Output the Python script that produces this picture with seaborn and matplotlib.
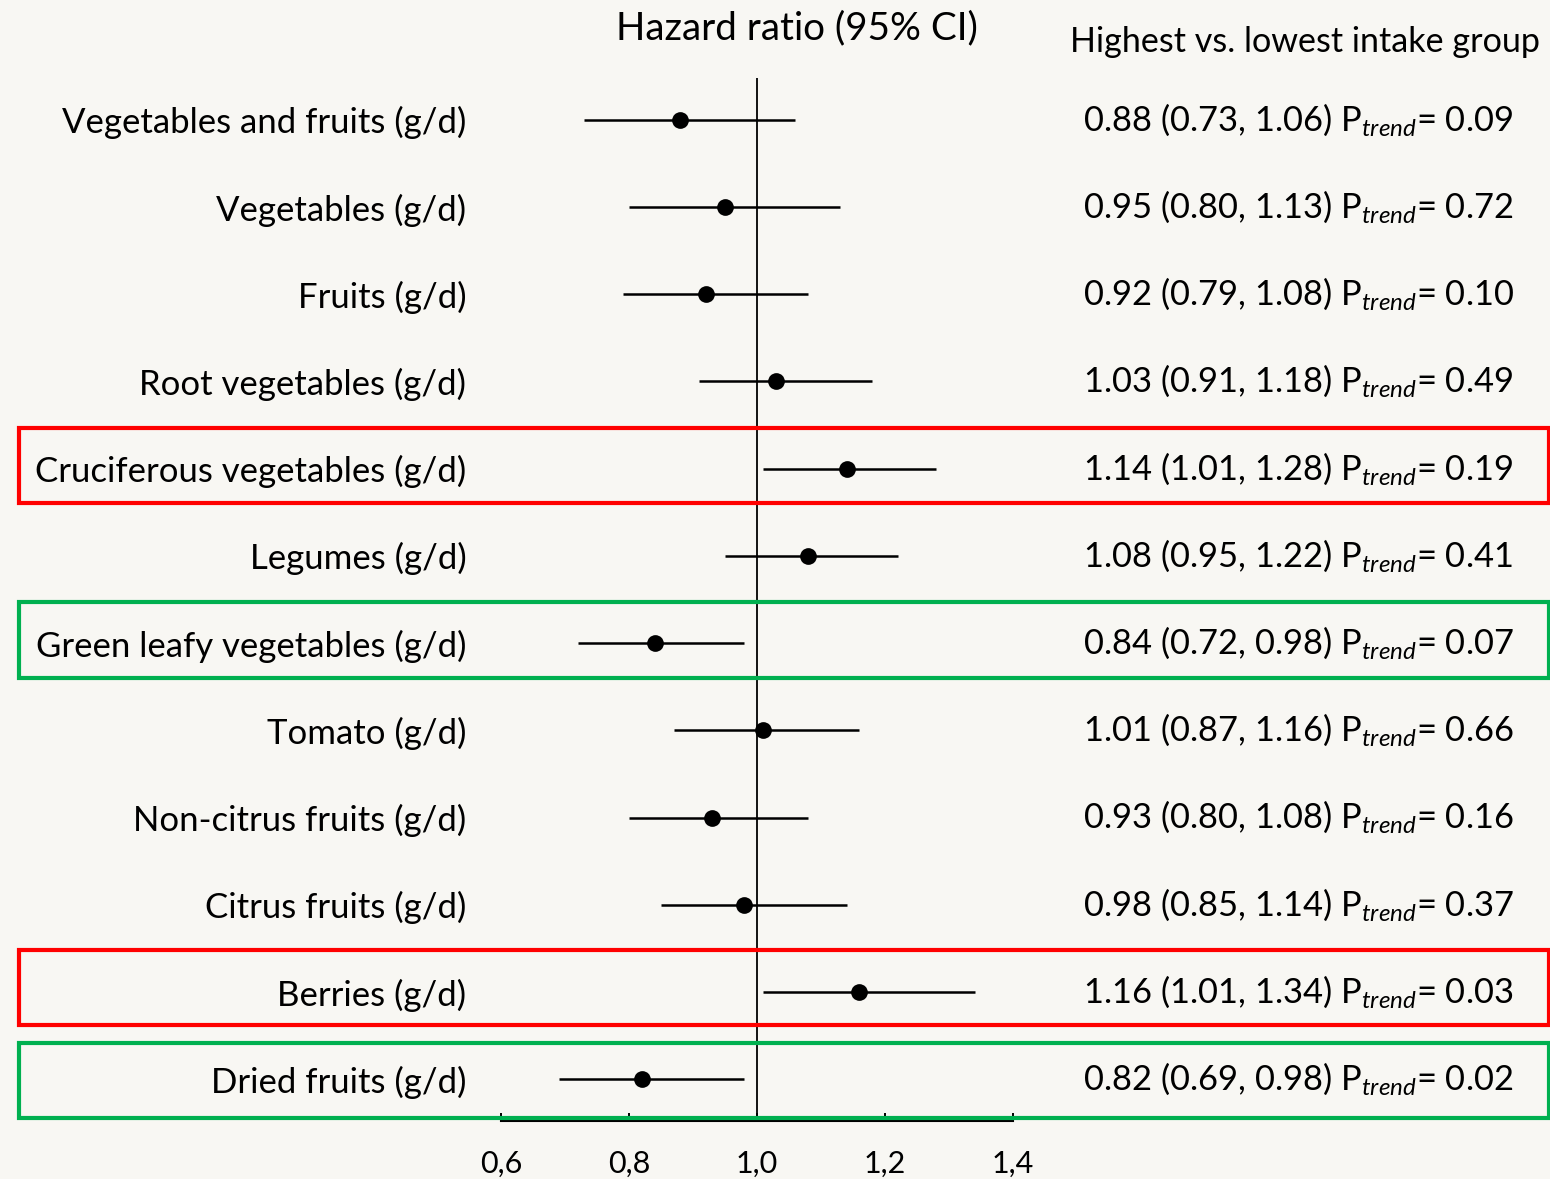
import matplotlib
matplotlib.use("Agg")
import matplotlib.pyplot as plt
import matplotlib.transforms as mtransforms
from matplotlib.patches import Rectangle
import pandas as pd
import seaborn as sns

# data
foods = [
    "Vegetables and fruits (g/d)",
    "Vegetables (g/d)",
    "Fruits (g/d)",
    "Root vegetables (g/d)",
    "Cruciferous vegetables (g/d)",
    "Legumes (g/d)",
    "Green leafy vegetables (g/d)",
    "Tomato (g/d)",
    "Non-citrus fruits (g/d)",
    "Citrus fruits (g/d)",
    "Berries (g/d)",
    "Dried fruits (g/d)",
]
hr = [0.88, 0.95, 0.92, 1.03, 1.14, 1.08, 0.84, 1.01, 0.93, 0.98, 1.16, 0.82]
ci_low = [0.73, 0.80, 0.79, 0.91, 1.01, 0.95, 0.72, 0.87, 0.80, 0.85, 1.01, 0.69]
ci_high = [1.06, 1.13, 1.08, 1.18, 1.28, 1.22, 0.98, 1.16, 1.08, 1.14, 1.34, 0.98]
p_trend = ["0.09", "0.72", "0.10", "0.49", "0.19", "0.41", "0.07", "0.66", "0.16", "0.37", "0.03", "0.02"]
x_ticks = [0.6, 0.8, 1.0, 1.2, 1.4]
x_ticklabels = ["0,6", "0,8", "1,0", "1,2", "1,4"]

# rows that get a coloured frame: colour, top offset, bottom offset (in rows)
boxes = {4: ("#FF0000", -0.47, 0.39), 6: ("#00B050", -0.47, 0.40),
         10: ("#FF0000", -0.48, 0.38), 11: ("#00B050", -0.41, 0.44)}

df = pd.DataFrame({"food": foods, "hr": hr, "lo": ci_low, "hi": ci_high})

bg = "#F8F7F3"
sns.set_theme(style="white")
plt.rcParams["font.family"] = ["Lato", "DejaVu Sans"]
plt.rcParams["mathtext.fontset"] = "custom"
plt.rcParams["mathtext.rm"] = "Lato"
plt.rcParams["mathtext.it"] = "Lato:italic"

W, H = 1550, 1179
fig = plt.figure(figsize=(W / 100, H / 100), dpi=100, facecolor=bg)
ax = fig.add_axes([501 / W, 1 - 1121 / H, 512 / W, (1121 - 78) / H])
ax.set_facecolor(bg)

ax.axvline(1.0, color="black", lw=1.3, zorder=1)
ax.hlines(y=range(len(df)), xmin=df["lo"], xmax=df["hi"], color="black", lw=1.8, zorder=2)
sns.scatterplot(data=df, x="hr", y="food", ax=ax, s=145, color="black",
                edgecolor="black", linewidth=0, zorder=3, legend=False)

ax.set_xlim(0.6, 1.4)
ax.set_ylim(len(df) - 1 + 0.48, -0.48)
ax.set_xticks(x_ticks)
ax.set_xticklabels(x_ticklabels, fontsize=22)
ax.tick_params(axis="x", bottom=True, direction="in", length=6, width=1.4, color="black",
               pad=21, labelcolor="black")
ax.tick_params(axis="y", left=False, length=0, pad=25, labelsize=25, labelcolor="black")
ax.set_xlabel("")
ax.set_ylabel("")
for s in ["left", "top", "right"]:
    ax.spines[s].set_visible(False)
ax.spines["bottom"].set_color("black")
ax.spines["bottom"].set_linewidth(1.5)

trans = mtransforms.blended_transform_factory(fig.transFigure, ax.transData)
for i in range(len(df)):
    txt = f"{hr[i]:.2f} ({ci_low[i]:.2f}, {ci_high[i]:.2f}) P$_{{trend}}$= {p_trend[i]}"
    fig.text(1083 / W, i + 0.12, txt, transform=trans, ha="left", va="baseline",
             fontsize=24.8, color="black")
for row, (col, top, bot) in boxes.items():
    ax.add_patch(Rectangle((19 / W, row + top), (1549 - 19) / W, bot - top, transform=trans,
                           fill=False, edgecolor=col, lw=3, clip_on=False, zorder=4))

fig.text(797 / W, 1 - 28 / H, "Hazard ratio (95% CI)", ha="center", va="center", fontsize=27.8, color="black")
fig.text(1070 / W, 1 - 42 / H, "Highest vs. lowest intake group", ha="left", va="center", fontsize=24.6, color="black")

fig.savefig("out.png", dpi=100, facecolor=bg)
